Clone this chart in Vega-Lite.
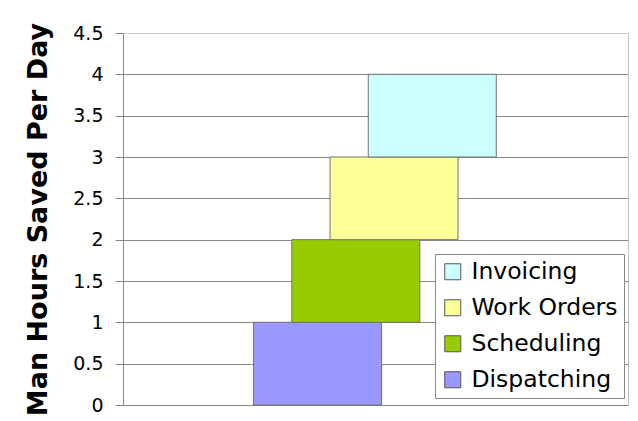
{
  "$schema": "https://vega.github.io/schema/vega-lite/v6.json",
  "width": 505,
  "height": 372,
  "autosize": {"type": "none"},
  "padding": {"left": 123, "top": 33, "right": 10, "bottom": 16},
  "background": "#ffffff",
  "data": {
    "values": [
      {"task": "Dispatching", "slot": 0, "start": 0, "end": 1},
      {"task": "Scheduling", "slot": 1, "start": 1, "end": 2},
      {"task": "Work Orders", "slot": 2, "start": 2, "end": 3},
      {"task": "Invoicing", "slot": 3, "start": 3, "end": 4}
    ]
  },
  "mark": {"type": "bar", "width": 128, "stroke": "#707070", "strokeWidth": 1},
  "encoding": {
    "x": {
      "field": "slot",
      "type": "quantitative",
      "scale": {"domain": [-4.96, 7.99], "nice": false, "zero": false},
      "axis": null
    },
    "y": {
      "field": "start",
      "type": "quantitative",
      "scale": {"domain": [0, 4.5], "nice": false},
      "axis": {
        "title": "Man Hours Saved Per Day",
        "values": [0, 0.5, 1, 1.5, 2, 2.5, 3, 3.5, 4, 4.5],
        "format": "~g",
        "labelFont": "DejaVu Sans",
        "labelFontSize": 19,
        "labelColor": "#000000",
        "labelPadding": 12,
        "tickSize": 8,
        "tickColor": "#888888",
        "domainColor": "#888888",
        "gridColor": {"condition": {"test": "datum.value >= 4.5", "value": "#cccccc"}, "value": "#888888"},
        "gridWidth": 1,
        "titleFont": "DejaVu Sans",
        "titleFontSize": 27,
        "titleFontWeight": "bold",
        "titleColor": "#000000",
        "titlePadding": 20
      }
    },
    "y2": {"field": "end"},
    "color": {
      "field": "task",
      "type": "nominal",
      "scale": {
        "domain": ["Invoicing", "Work Orders", "Scheduling", "Dispatching"],
        "range": ["#ccffff", "#ffff99", "#99cc00", "#9999ff"]
      },
      "legend": {
        "title": null,
        "orient": "none",
        "legendX": 312,
        "legendY": 221,
        "symbolType": "square",
        "symbolSize": 256,
        "symbolStrokeColor": "#555555",
        "symbolStrokeWidth": 1,
        "labelFont": "DejaVu Sans",
        "labelFontSize": 23.5,
        "labelColor": "#000000",
        "labelOffset": 7,
        "rowPadding": 11,
        "padding": 6,
        "fillColor": "#ffffff",
        "strokeColor": "#888888"
      }
    }
  },
  "config": {
    "view": {"stroke": "#c0c0c0", "fill": "#ffffff"}
  }
}
